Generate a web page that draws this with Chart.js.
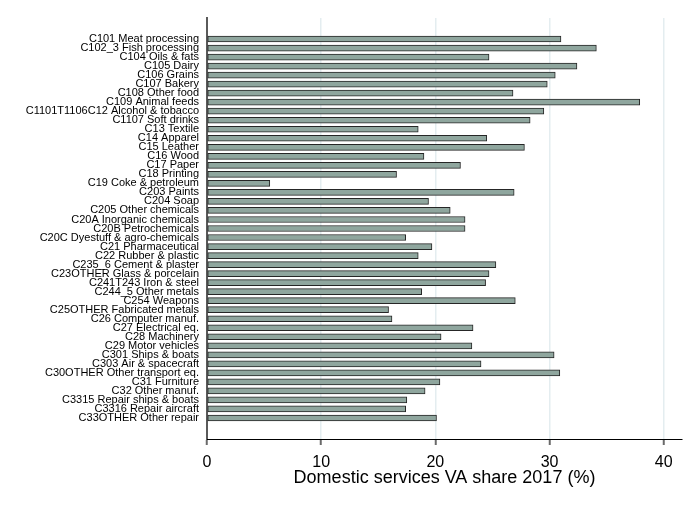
<!DOCTYPE html>
<html>
<head>
<meta charset="utf-8">
<script src="https://cdn.jsdelivr.net/npm/chart.js@4"></script>
<style>
  body { margin: 0; background: #fff; }
  #wrap { width: 700px; height: 509px; }
</style>
</head>
<body>
<div id="wrap"><canvas id="vaChart"></canvas></div>
<script>
const industries = [
  "C101 Meat processing",
  "C102_3 Fish processing",
  "C104 Oils & fats",
  "C105 Dairy",
  "C106 Grains",
  "C107 Bakery",
  "C108 Other food",
  "C109 Animal feeds",
  "C1101T1106C12 Alcohol & tobacco",
  "C1107 Soft drinks",
  "C13 Textile",
  "C14 Apparel",
  "C15 Leather",
  "C16 Wood",
  "C17 Paper",
  "C18 Printing",
  "C19 Coke & petroleum",
  "C203 Paints",
  "C204 Soap",
  "C205 Other chemicals",
  "C20A Inorganic chemicals",
  "C20B Petrochemicals",
  "C20C Dyestuff & agro-chemicals",
  "C21 Pharmaceutical",
  "C22 Rubber & plastic",
  "C235_6 Cement & plaster",
  "C23OTHER Glass & porcelain",
  "C241T243 Iron & steel",
  "C244_5 Other metals",
  "C254 Weapons",
  "C25OTHER Fabricated metals",
  "C26 Computer manuf.",
  "C27 Electrical eq.",
  "C28 Machinery",
  "C29 Motor vehicles",
  "C301 Ships & boats",
  "C303 Air & spacecraft",
  "C30OTHER Other transport eq.",
  "C31 Furniture",
  "C32 Other manuf.",
  "C3315 Repair ships & boats",
  "C3316 Repair aircraft",
  "C33OTHER Other repair",
];

const vaShare = [
  31.0, 34.1, 24.7, 32.4, 30.5, 29.8, 26.8, 37.9, 29.5, 28.3,
  18.5, 24.5, 27.8, 19.0, 22.2, 16.6, 5.5, 26.9, 19.4, 21.3,
  22.6, 22.6, 17.4, 19.7, 18.5, 25.3, 24.7, 24.4, 18.8, 27.0,
  15.9, 16.2, 23.3, 20.5, 23.2, 30.4, 24.0, 30.9, 20.4, 19.1,
  17.5, 17.4, 20.1,
];

const xTicks = [0, 10, 20, 30, 40];

const points = industries.map((name, i) => ({ x: vaShare[i], y: i }));

const ctx = document.getElementById("vaChart").getContext("2d");

new Chart(ctx, {
  type: "bar",
  data: {
    datasets: [
      {
        data: points,
        backgroundColor: "#8fa69e",
        borderColor: "#262626",
        borderWidth: 1,
        borderSkipped: false,
        barThickness: 6,
      },
    ],
  },
  options: {
    indexAxis: "y",
    responsive: true,
    maintainAspectRatio: false,
    animation: false,
    layout: {
      padding: { top: 18, right: 18, left: 0, bottom: 0 },
    },
    plugins: {
      legend: { display: false },
      tooltip: { enabled: false },
    },
    scales: {
      y: {
        type: "linear",
        reverse: true,
        offset: false,
        min: -2.33,
        max: 44.33,
        afterBuildTicks: (scale) => {
          scale.ticks = industries.map((_, i) => ({ value: i }));
        },
        afterFit: (scale) => {
          scale.width = 207;
        },
        ticks: {
          autoSkip: false,
          padding: 0,
          color: "#000",
          font: { family: "Liberation Sans", size: 11 },
          callback: (value) => industries[value],
        },
        grid: { display: false, offset: false },
        border: { display: true, color: "#5a5a5a", width: 2 },
      },
      x: {
        type: "linear",
        min: 0,
        max: 41.6,
        afterBuildTicks: (scale) => {
          scale.ticks = xTicks.map((v) => ({ value: v }));
        },
        afterFit: (scale) => {
          scale.height = 70;
        },
        ticks: {
          padding: 8,
          color: "#000",
          font: { family: "Liberation Sans", size: 16 },
        },
        grid: {
          color: (c) => (c.tick && c.tick.value === 0 ? "rgba(0,0,0,0)" : "#e4edf0"),
          lineWidth: 1.5,
          tickLength: 6,
          tickColor: "#6a6a6a",
          tickWidth: 2,
        },
        border: { display: true, color: "#000", width: 1 },
        title: {
          display: true,
          text: "Domestic services VA share 2017 (%)",
          color: "#000",
          font: { family: "Liberation Sans", size: 18 },
          padding: { top: 0, bottom: 20 },
        },
      },
    },
  },
});
</script>
</body>
</html>
